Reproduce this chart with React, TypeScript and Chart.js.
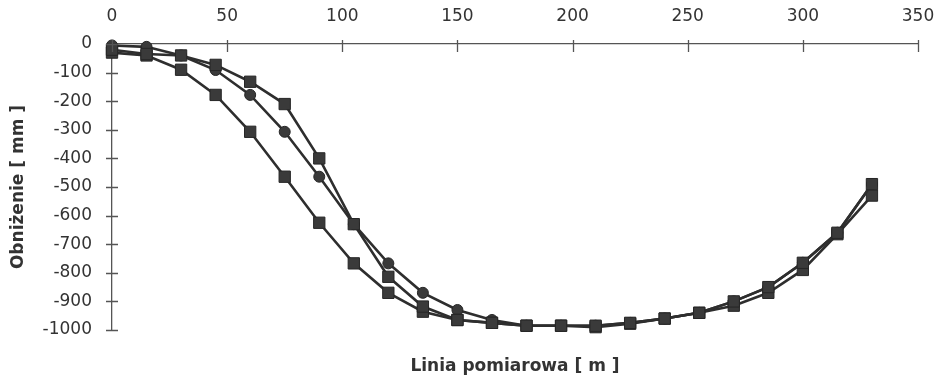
import React, { useEffect, useRef } from 'react';
import { Chart, registerables } from 'chart.js';

Chart.register(...registerables);

// Measurement positions along the line [m]
const positions = [0, 15, 30, 45, 60, 75, 90, 105, 120, 135, 150, 165, 180, 195, 210, 225, 240, 255, 270, 285, 300, 315, 330];

// Subsidence [mm]
const seriesUpperSquare = [-20, -35, -40, -73, -132, -210, -400, -630, -814, -918, -965, -975, -985, -985, -985, -975, -960, -940, -900, -850, -765, -660, -490];
const seriesLowerSquare = [-30, -40, -90, -178, -307, -464, -625, -767, -870, -936, -965, -975, -985, -985, -990, -978, -960, -940, -915, -870, -790, -665, -530];
const seriesCircle = [-5, -10, -40, -91, -178, -307, -464, -630, -767, -870, -930, -965, -985, -985, -985, -975, -960, -940, -900, -850, -765, -660, -490];

const xTickValues = [0, 50, 100, 150, 200, 250, 300, 350];
const yTickValues = [0, -100, -200, -300, -400, -500, -600, -700, -800, -900, -1000];

const xTitle = 'Linia pomiarowa [ m ]';
const yTitle = 'Obniżenie [ mm ]';

const FONT = 'DejaVu Sans';
const INK = '#333333';
const AXIS = '#555555';

const crossTicks = {
  id: 'crossTicks',
  afterDraw(chart: any) {
    const { ctx, scales } = chart;
    const x = scales.x;
    const y = scales.y;
    const top = chart.chartArea.top;
    const left = chart.chartArea.left;
    ctx.save();
    ctx.strokeStyle = AXIS;
    ctx.lineWidth = 1.3;
    ctx.beginPath();
    xTickValues.forEach((v) => {
      const px = Math.round(x.getPixelForValue(v)) + 0.5;
      ctx.moveTo(px, top - 4);
      ctx.lineTo(px, top + 8);
    });
    yTickValues.forEach((v) => {
      const py = Math.round(y.getPixelForValue(v)) + 0.5;
      ctx.moveTo(left - 6, py);
      ctx.lineTo(left + 6, py);
    });
    ctx.stroke();
    ctx.restore();
  },
};

export default function App() {
  const ref = useRef<HTMLCanvasElement | null>(null);

  useEffect(() => {
    document.body.style.margin = '0';
    const canvas = ref.current;
    if (!canvas) return;
    const toPts = (vals: number[]) => positions.map((p, i) => ({ x: p, y: vals[i] }));
    const common = {
      borderColor: '#2e2e2e',
      backgroundColor: '#2f2f2f',
      pointBorderColor: '#262626',
      pointBackgroundColor: '#3a3a3a',
      borderWidth: 2.6,
      pointBorderWidth: 1,
      tension: 0,
      clip: false as any,
      fill: false,
    };
    const chart = new Chart(canvas, {
      type: 'line',
      data: {
        datasets: [
          { ...common, label: 'A', data: toPts(seriesUpperSquare), pointStyle: 'rect', pointRadius: 8, pointHoverRadius: 8 },
          { ...common, label: 'B', data: toPts(seriesLowerSquare), pointStyle: 'rect', pointRadius: 8, pointHoverRadius: 8 },
          { ...common, label: 'C', data: toPts(seriesCircle), pointStyle: 'circle', pointRadius: 5.5, pointHoverRadius: 5.5 },
        ],
      },
      options: {
        animation: false,
        responsive: false,
        maintainAspectRatio: false,
        events: [],
        layout: { padding: { left: 0, top: 0, right: 26, bottom: 5.8 } },
        plugins: {
          legend: { display: false },
          tooltip: { enabled: false },
          title: {
            display: true,
            text: xTitle,
            position: 'bottom',
            fullSize: false,
            color: INK,
            font: { family: FONT, size: 17, weight: 'bold' },
            padding: { top: 26.8, bottom: 0 },
          },
        },
        scales: {
          x: {
            type: 'linear',
            position: 'top',
            min: 0,
            max: 350,
            afterBuildTicks: (scale: any) => {
              scale.ticks = xTickValues.map((v) => ({ value: v }));
            },
            afterFit: (scale: any) => {
              scale.height = 44;
              scale.paddingLeft = 0;
              scale.paddingRight = 0;
            },
            grid: { display: false, drawTicks: false },
            border: { display: true, color: AXIS, width: 1.3 },
            ticks: {
              color: INK,
              font: { family: FONT, size: 17 },
              padding: 17.5,
              maxRotation: 0,
              autoSkip: false,
              callback: (v: any) => String(v),
            },
          },
          y: {
            type: 'linear',
            min: -1000,
            max: 0,
            afterBuildTicks: (scale: any) => {
              scale.ticks = yTickValues.map((v) => ({ value: v }));
            },
            afterFit: (scale: any) => {
              scale.width = 112;
              scale.paddingTop = 0;
              scale.paddingBottom = 0;
            },
            grid: { display: false, drawTicks: false },
            border: { display: true, color: AXIS, width: 1.3 },
            ticks: {
              color: INK,
              font: { family: FONT, size: 17 },
              padding: 20,
              autoSkip: false,
              callback: (v: any) => String(v),
            },
            title: {
              display: true,
              text: yTitle,
              color: INK,
              font: { family: FONT, size: 17, weight: 'bold' },
              padding: { top: 8, bottom: 0 },
            },
          },
        },
      },
      plugins: [crossTicks],
    });
    return () => chart.destroy();
  }, []);

  return (
    <div style={{ width: 944, height: 383, position: 'relative', background: '#ffffff' }}>
      <canvas ref={ref} width={944} height={383} style={{ width: 944, height: 383, display: 'block' }} />
    </div>
  );
}
